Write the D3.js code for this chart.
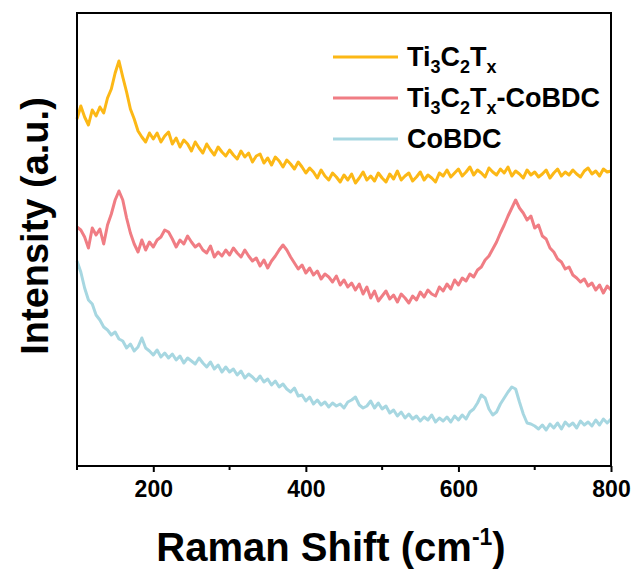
<!DOCTYPE html>
<html>
<head>
<meta charset="utf-8">
<script src="https://cdn.jsdelivr.net/npm/d3@7"></script>
<style>
  body { margin: 0; background: #fff; }
  text { font-family: "Liberation Sans", Arial, sans-serif; font-weight: bold; fill: #000; }
</style>
</head>
<body>
<div id="chart"></div>
<script>
// Raman shift grid (cm-1), one reading every 5 cm-1
var shift = d3.range(100, 805, 5);

// intensities (a.u., stacked offsets included)
var ti3c2tx = [
  347, 360, 349, 341, 356, 350, 359, 353, 368, 377, 393, 405, 389, 374, 357, 347, 335, 329, 324, 333,
  327, 333, 324, 330, 334, 322, 328, 319, 326, 322, 315, 324, 318, 313, 322, 316, 311, 319, 314, 310,
  316, 311, 307, 315, 309, 313, 304, 310, 312, 303, 308, 301, 309, 305, 299, 306, 302, 297, 304, 299,
  293, 298, 294, 288, 296, 290, 286, 293, 289, 284, 291, 286, 292, 283, 288, 294, 286, 290, 285, 293,
  288, 284, 292, 287, 295, 286, 290, 293, 285, 289, 294, 286, 291, 288, 284, 293, 290, 296, 289, 293,
  297, 290, 294, 299, 291, 296, 293, 289, 298, 294, 291, 297, 293, 299, 290, 295, 292, 288, 296, 291,
  294, 289, 292, 296, 288, 293, 297, 290, 294, 291, 296, 292, 289, 295, 298, 292, 295, 290, 297, 294,
  295
];

var ti3c2txCobdc = [
  239, 236, 229, 218, 238, 231, 237, 222, 241, 252, 266, 275, 266, 248, 233, 222, 214, 226, 216, 224,
  219, 226, 229, 236, 234, 227, 219, 226, 222, 230, 224, 219, 222, 216, 213, 220, 209, 214, 210, 216,
  211, 218, 213, 209, 216, 210, 205, 208, 200, 206, 198, 205, 210, 216, 221, 216, 209, 203, 197, 201,
  193, 198, 191, 195, 187, 192, 189, 184, 190, 181, 186, 179, 183, 176, 182, 172, 179, 168, 175, 165,
  170, 175, 167, 171, 164, 172, 168, 163, 170, 166, 174, 169, 176, 172, 170, 179, 175, 182, 177, 186,
  181, 188, 185, 192, 189, 196, 199, 206, 210, 217, 224, 233, 241, 250, 258, 266, 258, 253, 246, 250,
  238, 241, 230, 227, 218, 214, 207, 204, 197, 199, 191, 188, 184, 187, 180, 183, 176, 181, 173, 180,
  176
];

var cobdc = [
  205, 194, 178, 166, 162, 151, 146, 139, 136, 131, 134, 127, 125, 118, 122, 115, 119, 128, 118, 115,
  111, 116, 109, 113, 108, 112, 106, 110, 103, 108, 105, 102, 108, 103,  99, 104,  97, 101,  94,  99,
   94,  97,  91,  95,  88,  92,  89,  85,  90,  84,  87,  81,  85,  79,  82,  77,  74,  78,  70,  71,
   65,  69,  62,  66,  61,  64,  59,  63,  60,  62,  58,  64,  66,  69,  61,  58,  60,  65,  58,  63,
   57,  60,  53,  56,  50,  54,  48,  52,  47,  50,  45,  49,  46,  51,  44,  48,  45,  49,  44,  50,
   46,  51,  47,  54,  57,  63,  71,  68,  57,  51,  54,  62,  68,  74,  79,  77,  64,  52,  43,  42,
   40,  37,  41,  36,  42,  38,  43,  37,  44,  40,  43,  38,  45,  41,  44,  40,  46,  41,  47,  43,
   47
];

var seriesColors = ["#FCB816", "#F07D84", "#A7D7E1"];
var xTicks = [200, 400, 600, 800];
var xMinorTicks = [100, 300, 500, 700];

var svgWidth = 640;
var svgHeight = 574;

var margin = { top: 13, right: 29, bottom: 108, left: 77 };
var width = svgWidth - margin.left - margin.right;
var height = svgHeight - margin.top - margin.bottom;

var svg = d3.select("#chart")
  .append("svg")
  .attr("width", svgWidth)
  .attr("height", svgHeight);

var chartGroup = svg.append("g")
  .attr("transform", `translate(${margin.left}, ${margin.top})`);

// scales
var xScale = d3.scaleLinear()
  .domain([100, 800])
  .range([0, width]);

var yScale = d3.scaleLinear()
  .domain([0, height])
  .range([height, 0]);

var allSeries = [ti3c2tx, ti3c2txCobdc, cobdc];

var line = d3.line()
  .x(function(d, i) { return xScale(shift[i]); })
  .y(function(d) { return yScale(d); });

// spectra
chartGroup.selectAll(".spectrum")
  .data(allSeries)
  .enter()
  .append("path")
  .attr("class", "spectrum")
  .attr("d", line)
  .attr("fill", "none")
  .attr("stroke", function(d, i) { return seriesColors[i]; })
  .attr("stroke-width", 3)
  .attr("stroke-linejoin", "round");

// bottom axis, major + minor ticks
var xAxis = d3.axisBottom(xScale)
  .tickValues(xTicks)
  .tickSize(6)
  .tickPadding(9)
  .tickFormat(d3.format("d"));

var xAxisGroup = chartGroup.append("g")
  .attr("transform", `translate(0, ${height})`)
  .call(xAxis);

xAxisGroup.select(".domain").remove();
xAxisGroup.selectAll("line").attr("stroke", "#000").attr("stroke-width", 2);
xAxisGroup.selectAll("text")
  .style("font-size", "23px")
  .style("font-family", "'Liberation Sans', Arial, sans-serif")
  .style("font-weight", "bold")
  .attr("fill", "#000");

chartGroup.append("g")
  .selectAll("line")
  .data(xMinorTicks)
  .enter()
  .append("line")
  .attr("x1", function(d) { return xScale(d); })
  .attr("x2", function(d) { return xScale(d); })
  .attr("y1", height)
  .attr("y2", height + 4)
  .attr("stroke", "#000")
  .attr("stroke-width", 2);

// frame
chartGroup.append("rect")
  .attr("x", 0)
  .attr("y", 0)
  .attr("width", width)
  .attr("height", height)
  .attr("fill", "none")
  .attr("stroke", "#000")
  .attr("stroke-width", 2);

// axis titles
var xTitle = svg.append("text")
  .attr("x", 331)
  .attr("y", 561)
  .attr("text-anchor", "middle")
  .style("font-size", "40px");
xTitle.append("tspan").text("Raman Shift (cm");
xTitle.append("tspan").attr("dy", -16).style("font-size", "23px").text("-1");
xTitle.append("tspan").attr("dy", 16).text(")");

svg.append("text")
  .attr("transform", "translate(48, 226) rotate(-90)")
  .attr("text-anchor", "middle")
  .style("font-size", "38px")
  .text("Intensity (a.u.)");

// legend
var legendRows = [
  [["Ti", 0], ["3", 1], ["C", 0], ["2", 1], ["T", 0], ["x", 1]],
  [["Ti", 0], ["3", 1], ["C", 0], ["2", 1], ["T", 0], ["x", 1], ["-CoBDC", 0]],
  [["CoBDC", 0]]
];

var legend = svg.append("g");

legendRows.forEach(function(parts, i) {
  var y = 57 + i * 41;
  legend.append("line")
    .attr("x1", 333)
    .attr("x2", 398)
    .attr("y1", y)
    .attr("y2", y)
    .attr("stroke", seriesColors[i])
    .attr("stroke-width", 3);

  var label = legend.append("text")
    .attr("x", 407)
    .attr("y", y + 9)
    .style("font-size", "27px");

  var shifted = 0;
  parts.forEach(function(p) {
    var dy = (p[1] ? 7 : 0) - shifted;
    shifted = p[1] ? 7 : 0;
    label.append("tspan")
      .attr("dy", dy)
      .style("font-size", p[1] ? "18px" : "27px")
      .text(p[0]);
  });
});
</script>
</body>
</html>
